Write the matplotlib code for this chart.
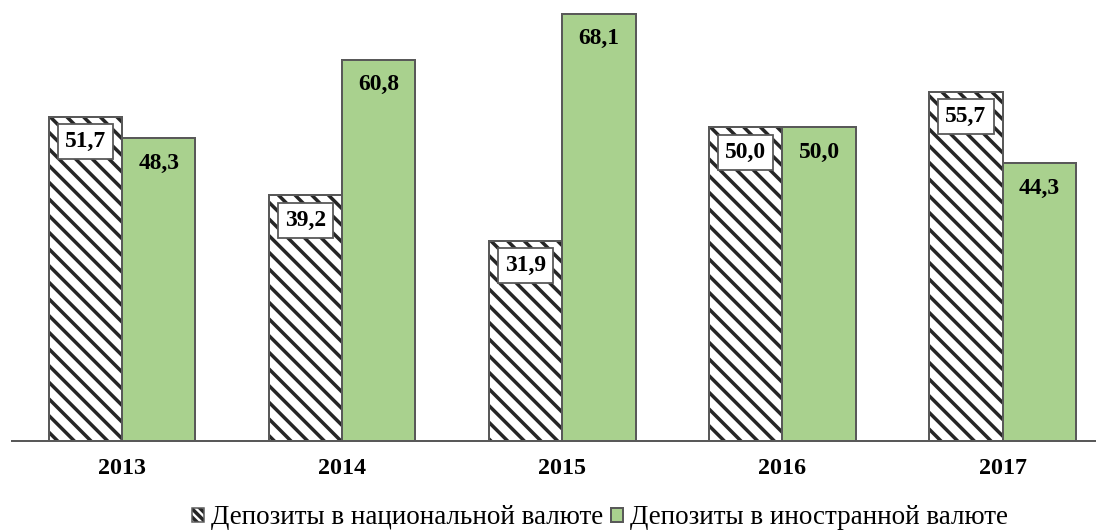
import matplotlib
matplotlib.use("Agg")
import matplotlib.pyplot as plt
from matplotlib.legend_handler import HandlerTuple
from matplotlib.patches import Patch
import numpy as np

# data
years = ["2013", "2014", "2015", "2016", "2017"]
national = [51.7, 39.2, 31.9, 50.0, 55.7]
foreign = [48.3, 60.8, 68.1, 50.0, 44.3]
series_names = ["Депозиты в национальной валюте", "Депозиты в иностранной валюте"]

DPI = 100
W, H = 1100, 531

def pt(px):
    return px * 72 / DPI

plt.rcParams['font.family'] = ['Liberation Serif', 'DejaVu Serif']
plt.rcParams['hatch.linewidth'] = pt(3.5)

fig = plt.figure(figsize=(W / DPI, H / DPI), dpi=DPI)
ax = fig.add_axes([12 / W, 1 - 441 / H, (1095 - 12) / W, 439 / H])

x = np.arange(len(years))
w = 0.333
edge = '#595959'
green = '#A9D18E'
hatch_col = '#262626'

# hatched fill in black, then a grey outline on top
ax.bar(x - w / 2, national, w, facecolor='white', edgecolor=hatch_col,
       hatch='\\\\', linewidth=0)
ax.bar(x - w / 2, national, w, facecolor='none', edgecolor=edge, linewidth=pt(2))
b2 = ax.bar(x + w / 2, foreign, w, facecolor=green, edgecolor=edge, linewidth=pt(2))

def fmt(v):
    return f"{v:.1f}".replace('.', ',')

for xi, v in zip(x, national):
    ax.annotate(fmt(v), (xi - w / 2, v), xytext=(0, -pt(25)), textcoords='offset points',
                ha='center', va='center', fontsize=pt(23.5), fontweight='bold',
                bbox=dict(boxstyle='square,pad=0.3', facecolor='white', edgecolor=edge,
                          linewidth=pt(1.8)))
for xi, v in zip(x, foreign):
    ax.annotate(fmt(v), (xi + w / 2, v), xytext=(0, -pt(25)), textcoords='offset points',
                ha='center', va='center', fontsize=pt(23.5), fontweight='bold')

ax.set_xlim(-0.5, 4.42)
ax.set_ylim(0, 70)
ax.set_xticks(x)
ax.set_xticklabels(years, fontsize=pt(24), fontweight='bold')
ax.tick_params(axis='x', length=0, pad=pt(17))
ax.set_yticks([])
for s in ['top', 'right', 'left']:
    ax.spines[s].set_visible(False)
ax.spines['bottom'].set_color(edge)
ax.spines['bottom'].set_linewidth(pt(2))

# legend marker for the hatched series: denser hatch so it reads as a dark square
leg_h = Patch(facecolor='white', edgecolor=hatch_col, hatch='\\\\\\\\', linewidth=0)
leg_o = Patch(facecolor='none', edgecolor=edge, linewidth=pt(1.5))
fig.legend(handles=[(leg_h, leg_o), b2], labels=series_names, loc='center',
           bbox_to_anchor=(600 / W, 1 - 518 / H),
           handler_map={tuple: HandlerTuple(ndivide=1, pad=0)},
           ncol=2, frameon=False, fontsize=pt(27), handlelength=0.45, handleheight=0.45,
           handletextpad=0.25, columnspacing=0.3)

fig.savefig('out.png', dpi=DPI)
